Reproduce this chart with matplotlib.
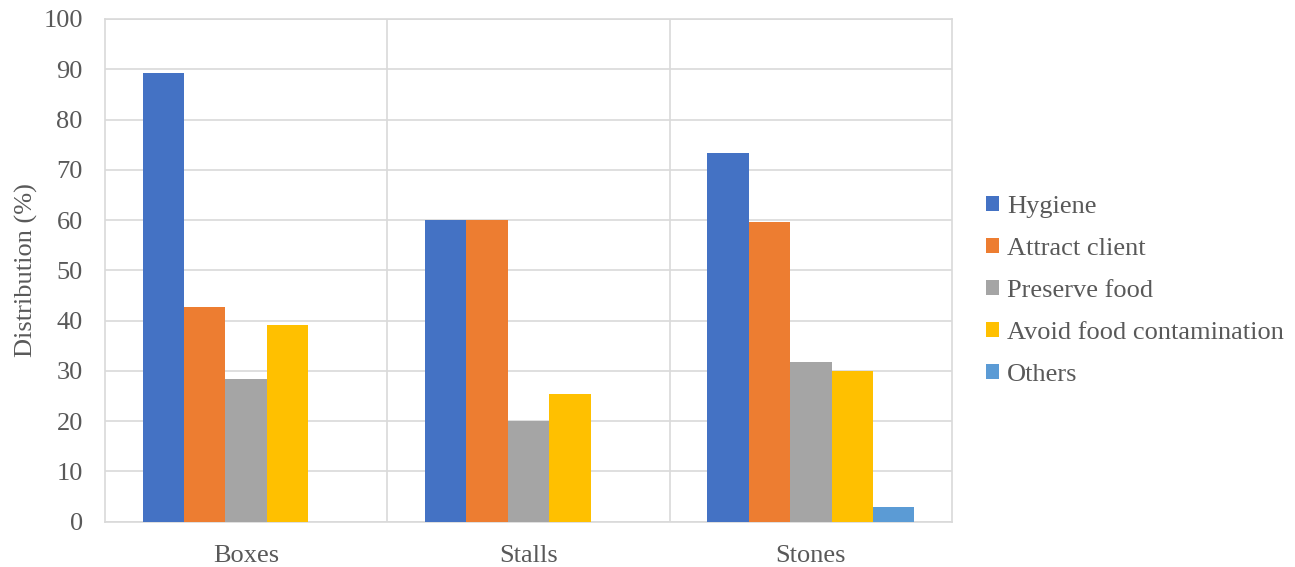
import matplotlib
matplotlib.use("Agg")
import matplotlib.pyplot as plt
import numpy as np
from matplotlib.patches import Patch

plt.rcParams['font.family'] = ['Liberation Serif', 'DejaVu Serif']

categories = ["Boxes", "Stalls", "Stones"]
series_names = ["Hygiene", "Attract client", "Preserve food",
                "Avoid food contamination", "Others"]
hygiene = [89.2, 60.0, 73.3]
attract_client = [42.7, 60.0, 59.6]
preserve_food = [28.3, 20.0, 31.8]
avoid_contamination = [39.2, 25.4, 30.0]
others = [0.0, 0.0, 3.0]
y_ticks = [0, 10, 20, 30, 40, 50, 60, 70, 80, 90, 100]

series_values = [hygiene, attract_client, preserve_food, avoid_contamination, others]
colors = ["#4472C4", "#ED7D31", "#A5A5A5", "#FFC000", "#5B9BD5"]
text_color = "#595959"
grid_color = "#D9D9D9"

fig = plt.figure(figsize=(12.95, 5.67), dpi=100)
ax = fig.add_axes([0.0811, 0.0799, 0.6540, 0.8866])

x = np.arange(len(categories))
n = len(series_values)
bar_w = 0.1467
offsets = (np.arange(n) - (n - 1) / 2) * bar_w
for vals, off, col in zip(series_values, offsets, colors):
    ax.bar(x + off, vals, width=bar_w, color=col, zorder=3, linewidth=0)

ax.set_xlim(-0.5, len(categories) - 0.5)
ax.set_ylim(0, 100)
ax.set_yticks(y_ticks)
ax.set_xticks(x)
ax.set_xticklabels(categories)
ax.tick_params(axis='both', length=0, labelsize=19, colors=text_color)
ax.tick_params(axis='x', pad=17)
ax.tick_params(axis='y', pad=16)

# horizontal gridlines and category separators
ax.yaxis.grid(True, color=grid_color, linewidth=1.2, zorder=0)
for sep in np.arange(0.5, len(categories) - 0.5, 1.0):
    ax.axvline(sep, color=grid_color, linewidth=1.2, zorder=0)
for side in ['left', 'right', 'top', 'bottom']:
    ax.spines[side].set_color(grid_color)
    ax.spines[side].set_linewidth(1.2)

ax.set_ylabel("Distribution (%)", fontsize=19, color=text_color, labelpad=4)

handles = [Patch(facecolor=c, edgecolor='none') for c in colors]
leg = fig.legend(handles, series_names, loc='center left',
                 bbox_to_anchor=(0.743, 0.487), frameon=False,
                 fontsize=19, handlelength=0.5, handleheight=0.5,
                 handletextpad=0.3, labelspacing=0.76)
for t in leg.get_texts():
    t.set_color(text_color)

fig.savefig("out.png", dpi=100)
